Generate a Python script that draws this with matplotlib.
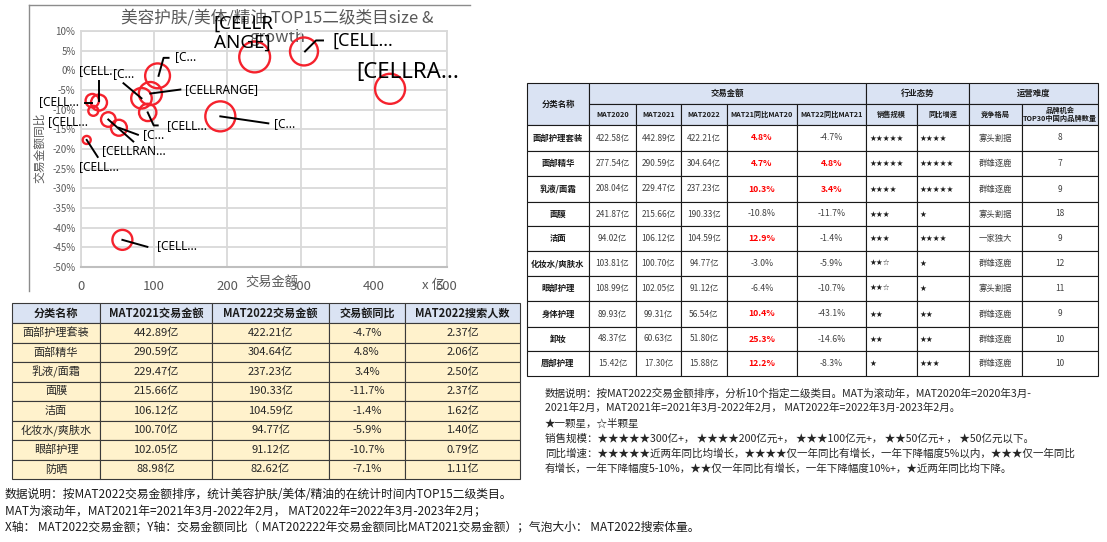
import matplotlib
matplotlib.use('Agg')
import matplotlib.pyplot as plt
import matplotlib.transforms as mtransforms
from matplotlib.patches import Rectangle
from matplotlib.lines import Line2D
import numpy as np

plt.rcParams['font.family'] = ['Noto Sans CJK SC', 'DejaVu Sans']

# ---------------- data: bubble chart ----------------
bubble_x = [422.21, 304.64, 237.23, 190.33, 104.59, 94.77, 91.12, 82.62,
            56.54, 51.80, 37.3, 24.6, 15.4, 16.8, 7.8]
bubble_y = [-4.7, 4.8, 3.4, -11.7, -1.4, -5.9, -10.7, -7.1,
            -43.1, -14.6, -12.5, -8.2, -7.7, -10.3, -17.7]
bubble_size = [2.37, 2.06, 2.50, 2.37, 1.62, 1.40, 0.79, 1.11,
               1.05, 0.67, 0.56, 0.67, 0.47, 0.26, 0.17]
bubble_labels = ['[CELLRA...', '[CELL...', '[CELLR\nANGE]', '[C...', '[C...',
                 '[CELLRANGE]', '[CELL...', '[C...', '[CELL...', '[C...',
                 '[CELLRAN...', '[CELL.', '[CELL...', '[CELL...', '[CELL...']
x_ticks = [0, 100, 200, 300, 400, 500]
y_ticks = [10, 5, 0, -5, -10, -15, -20, -25, -30, -35, -40, -45, -50]

# label layout: (dx, dy) pixel offsets (y down), font size, leader polyline offsets
label_offsets = [(-34, -16), (29, -11), (-41, -24), (54, 7), (17, -19),
                 (35, -4), (19, 13), (-28, -25), (35, 6), (24, 7),
                 (-6, 31), (-20, -32), (-53, 1), (-45, 11), (-8, 27)]
label_sizes = [16, 13, 13.5, 8.5, 8.5, 8.5, 8.5, 8.5, 8.5, 8.5, 8.5, 8.5, 8.5, 8.5, 8.5]
leaders = [None, [(1, 0), (12, -11), (19, -11)], None, [(0, 0), (48, 7)],
           [(1, 0), (6, -18), (11, -18)], [(0, 0), (30, -4)],
           [(0, 0), (6, 13), (10, 13)], [(0, 0), (-18, -15)],
           [(0, 0), (25, 7)], [(0, 0), (19, 7)], [(0, 0), (25, 22)],
           [(0, -2), (0, -22)], [(0, 2), (-7, 2)], None, [(0, 0), (11, 17)]]

# ---------------- data: left table ----------------
lt_header = ['分类名称', 'MAT2021交易金额', 'MAT2022交易金额', '交易额同比', 'MAT2022搜索人数']
lt_names = ['面部护理套装', '面部精华', '乳液/面霜', '面膜', '洁面', '化妆水/爽肤水', '眼部护理', '防晒']
lt_mat2021 = [442.89, 290.59, 229.47, 215.66, 106.12, 100.70, 102.05, 88.98]
lt_mat2022 = [422.21, 304.64, 237.23, 190.33, 104.59, 94.77, 91.12, 82.62]
lt_yoy = [-4.7, 4.8, 3.4, -11.7, -1.4, -5.9, -10.7, -7.1]
lt_search = [2.37, 2.06, 2.50, 2.37, 1.62, 1.40, 0.79, 1.11]

# ---------------- data: right table ----------------
rt_names = ['面部护理套装', '面部精华', '乳液/面霜', '面膜', '洁面', '化妆水/爽肤水',
            '眼部护理', '身体护理', '卸妆', '唇部护理']
rt_mat2020 = [422.58, 277.54, 208.04, 241.87, 94.02, 103.81, 108.99, 89.93, 48.37, 15.42]
rt_mat2021 = [442.89, 290.59, 229.47, 215.66, 106.12, 100.70, 102.05, 99.31, 60.63, 17.30]
rt_mat2022 = [422.21, 304.64, 237.23, 190.33, 104.59, 94.77, 91.12, 56.54, 51.80, 15.88]
rt_yoy21 = [4.8, 4.7, 10.3, -10.8, 12.9, -3.0, -6.4, 10.4, 25.3, 12.2]
rt_yoy22 = [-4.7, 4.8, 3.4, -11.7, -1.4, -5.9, -10.7, -43.1, -14.6, -8.3]
rt_scale = ['★★★★★', '★★★★★', '★★★★', '★★★', '★★★', '★★☆', '★★☆', '★★', '★★', '★']
rt_growth = ['★★★★', '★★★★★', '★★★★★', '★', '★★★★', '★', '★', '★★', '★★', '★★★']
rt_comp = ['寡头割据', '群雄逐鹿', '群雄逐鹿', '寡头割据', '一家独大', '群雄逐鹿',
           '寡头割据', '群雄逐鹿', '群雄逐鹿', '群雄逐鹿']
rt_brand = [8, 7, 9, 18, 9, 12, 11, 9, 10, 10]
rt_group_header = ['交易金额', '行业态势', '运营难度']
rt_sub_header = ['MAT2020', 'MAT2021', 'MAT2022', 'MAT21同比MAT20', 'MAT22同比MAT21',
                 '销售规模', '同比增速', '竞争格局', '品牌机会\nTOP30中国内品牌数量']

notes_left = ['数据说明：按MAT2022交易金额排序，统计美容护肤/美体/精油的在统计时间内TOP15二级类目。',
              'MAT为滚动年，MAT2021年=2021年3月-2022年2月， MAT2022年=2022年3月-2023年2月；',
              'X轴： MAT2022交易金额；Y轴：交易金额同比（ MAT202222年交易金额同比MAT2021交易金额）；气泡大小： MAT2022搜索体量。']
notes_right = ['数据说明：按MAT2022交易金额排序，分析10个指定二级类目。MAT为滚动年，MAT2020年=2020年3月-',
               '2021年2月，MAT2021年=2021年3月-2022年2月， MAT2022年=2022年3月-2023年2月。',
               '★一颗星，☆半颗星',
               '销售规模：★★★★★300亿+， ★★★★200亿元+， ★★★100亿元+， ★★50亿元+ ， ★50亿元以下。',
               '同比增速：★★★★★近两年同比均增长，★★★★仅一年同比有增长，一年下降幅度5%以内，★★★仅一年同比',
               '有增长，一年下降幅度5-10%，★★仅一年同比有增长，一年下降幅度10%+，★近两年同比均下降。']

# ---------------- figure ----------------
W, H = 1107, 542
fig = plt.figure(figsize=(W / 100, H / 100), dpi=100)
fig.patch.set_facecolor('white')
bg = fig.add_axes([0, 0, 1, 1])
bg.set_xlim(0, W)
bg.set_ylim(H, 0)
bg.axis('off')

GRAY = '#595959'

# chart frame
bg.plot([29, 29], [5, 291], color='#8C8C8C', lw=1)
bg.plot([29, 470], [5, 5], color='#8C8C8C', lw=1)

# ---------------- bubble chart ----------------
ax = fig.add_axes([81 / W, 1 - 267 / H, 366 / W, 236 / H])
ax.set_facecolor('none')
ax.set_xlim(0, 500)
ax.set_ylim(-50, 10)
ax.set_xticks(x_ticks)
ax.set_yticks(y_ticks)
ax.set_xticklabels([str(v) for v in x_ticks], fontsize=9.5, color=GRAY)
ax.set_yticklabels([f'{v}%' for v in y_ticks], fontsize=7, color=GRAY)
ax.tick_params(length=0)
ax.tick_params(axis='x', pad=9)
ax.tick_params(axis='y', pad=4)
ax.grid(True, color='#D9D9D9', lw=1.3)
ax.set_axisbelow(True)
for side in ['top', 'right', 'left']:
    ax.spines[side].set_color('#D9D9D9')
    ax.spines[side].set_linewidth(1.3)
ax.spines['bottom'].set_color('#BFBFBF')
ax.spines['bottom'].set_linewidth(1.5)

ax.scatter(bubble_x, bubble_y, s=np.array(bubble_size) * 197, facecolors='none',
           edgecolors='#F5222D', linewidths=1.7, zorder=3, clip_on=False)

for i in range(len(bubble_x)):
    tr = mtransforms.IdentityTransform() + mtransforms.ScaledTranslation(
        bubble_x[i], bubble_y[i], ax.transData)
    dx, dy = label_offsets[i]
    ax.text(dx, -dy, bubble_labels[i], transform=tr, ha='left', va='center',
            fontsize=label_sizes[i], family=['Noto Sans', 'DejaVu Sans'],
            color='black', zorder=5, linespacing=1.05)
    if leaders[i] is not None:
        xs = [p[0] for p in leaders[i]]
        ys = [-p[1] for p in leaders[i]]
        ax.add_line(Line2D(xs, ys, transform=tr, color='black', lw=1.4, zorder=4))

# titles / axis labels
bg.text(277, 18, '美容护肤/美体/精油 TOP15二级类目size &', ha='center', va='center',
        fontsize=12, color=GRAY)
bg.text(277, 37, 'growth', ha='center', va='center', fontsize=12, color=GRAY)
bg.text(40, 148, '交易金额同比', rotation=90, ha='center', va='center', fontsize=8.5, color=GRAY)
bg.text(272, 283, '交易金额', ha='center', va='center', fontsize=9.5, color=GRAY)
bg.text(433, 285, 'x 亿', ha='center', va='center', fontsize=9.5, color=GRAY)

# ---------------- left table ----------------
lt_cols = [12, 100, 212, 329, 405, 520]
lt_top, lt_hh, lt_rh = 303, 20, 19.5
BORDER = '#3A3A3A'
for j in range(5):
    bg.add_patch(Rectangle((lt_cols[j], lt_top), lt_cols[j + 1] - lt_cols[j], lt_hh,
                           facecolor='#DAE3F3', edgecolor=BORDER, lw=0.8))
    bg.text((lt_cols[j] + lt_cols[j + 1]) / 2, lt_top + lt_hh / 2, lt_header[j],
            ha='center', va='center', fontsize=8, fontweight='bold', color='#1A1A1A')
for i in range(len(lt_names)):
    y0 = lt_top + lt_hh + i * lt_rh
    vals = [lt_names[i], f'{lt_mat2021[i]:.2f}亿', f'{lt_mat2022[i]:.2f}亿',
            f'{lt_yoy[i]:.1f}%', f'{lt_search[i]:.2f}亿']
    for j in range(5):
        bg.add_patch(Rectangle((lt_cols[j], y0), lt_cols[j + 1] - lt_cols[j], lt_rh,
                               facecolor='#FFF2CC', edgecolor=BORDER, lw=0.8))
        bg.text((lt_cols[j] + lt_cols[j + 1]) / 2, y0 + lt_rh / 2, vals[j],
                ha='center', va='center', fontsize=8, color='#262626')

for k, line in enumerate(notes_left):
    bg.text(5, 494 + k * 16.5, line, ha='left', va='center', fontsize=8.5, color='#1A1A1A')

# ---------------- right table ----------------
rt_cols = [527, 589, 636, 681, 727, 797, 866, 917, 969, 1022, 1098]
rt_rows = [83, 104, 125, 151, 176, 202, 226, 251, 276, 301, 327, 351, 376]
HEAD = '#DAE3F3'
RB = '#1A1A1A'
# header: 分类名称 spanning two rows
bg.add_patch(Rectangle((rt_cols[0], rt_rows[0]), rt_cols[1] - rt_cols[0], rt_rows[2] - rt_rows[0],
                       facecolor=HEAD, edgecolor=RB, lw=0.8))
bg.text((rt_cols[0] + rt_cols[1]) / 2, (rt_rows[0] + rt_rows[2]) / 2, '分类名称',
        ha='center', va='center', fontsize=6, fontweight='bold', color='#1A1A1A')
group_span = [(1, 6), (6, 8), (8, 10)]
for g, (a, b) in enumerate(group_span):
    bg.add_patch(Rectangle((rt_cols[a], rt_rows[0]), rt_cols[b] - rt_cols[a], rt_rows[1] - rt_rows[0],
                           facecolor=HEAD, edgecolor=RB, lw=0.8))
    bg.text((rt_cols[a] + rt_cols[b]) / 2, (rt_rows[0] + rt_rows[1]) / 2, rt_group_header[g],
            ha='center', va='center', fontsize=6, fontweight='bold', color='#1A1A1A')
for j in range(1, 10):
    bg.add_patch(Rectangle((rt_cols[j], rt_rows[1]), rt_cols[j + 1] - rt_cols[j], rt_rows[2] - rt_rows[1],
                           facecolor=HEAD, edgecolor=RB, lw=0.8))
    bg.text((rt_cols[j] + rt_cols[j + 1]) / 2, (rt_rows[1] + rt_rows[2]) / 2, rt_sub_header[j - 1],
            ha='center', va='center', fontsize=5.2, fontweight='bold', color='#1A1A1A',
            linespacing=1.1)

for i in range(len(rt_names)):
    y0, y1 = rt_rows[i + 2], rt_rows[i + 3]
    yc = (y0 + y1) / 2
    for j in range(10):
        bg.add_patch(Rectangle((rt_cols[j], y0), rt_cols[j + 1] - rt_cols[j], y1 - y0,
                               facecolor='white', edgecolor=RB, lw=0.8))
    cx = [(rt_cols[j] + rt_cols[j + 1]) / 2 for j in range(10)]
    bg.text(cx[0], yc, rt_names[i], ha='center', va='center', fontsize=6,
            fontweight='bold', color='#1A1A1A')
    for j, v in zip([1, 2, 3], [rt_mat2020[i], rt_mat2021[i], rt_mat2022[i]]):
        bg.text(cx[j], yc, f'{v:.2f}亿', ha='center', va='center', fontsize=6, color='#404040')
    for j, v in zip([4, 5], [rt_yoy21[i], rt_yoy22[i]]):
        pos = v > 0
        bg.text(cx[j], yc, f'{v:.1f}%', ha='center', va='center', fontsize=6.3,
                color='#FF0000' if pos else '#404040', fontweight='bold' if pos else 'normal')
    bg.text(rt_cols[6] + 3, yc, rt_scale[i], ha='left', va='center', fontsize=5.5,
            color='#1A1A1A', family=['DejaVu Sans'])
    bg.text(rt_cols[7] + 3, yc, rt_growth[i], ha='left', va='center', fontsize=5.5,
            color='#1A1A1A', family=['DejaVu Sans'])
    bg.text(cx[8], yc, rt_comp[i], ha='center', va='center', fontsize=6, color='#404040')
    bg.text(cx[9], yc, str(rt_brand[i]), ha='center', va='center', fontsize=6, color='#404040')

for k, line in enumerate(notes_right):
    bg.text(545, 393 + k * 15.2, line, ha='left', va='center', fontsize=7.6, color='#262626')

fig.savefig('out.png', dpi=100)
